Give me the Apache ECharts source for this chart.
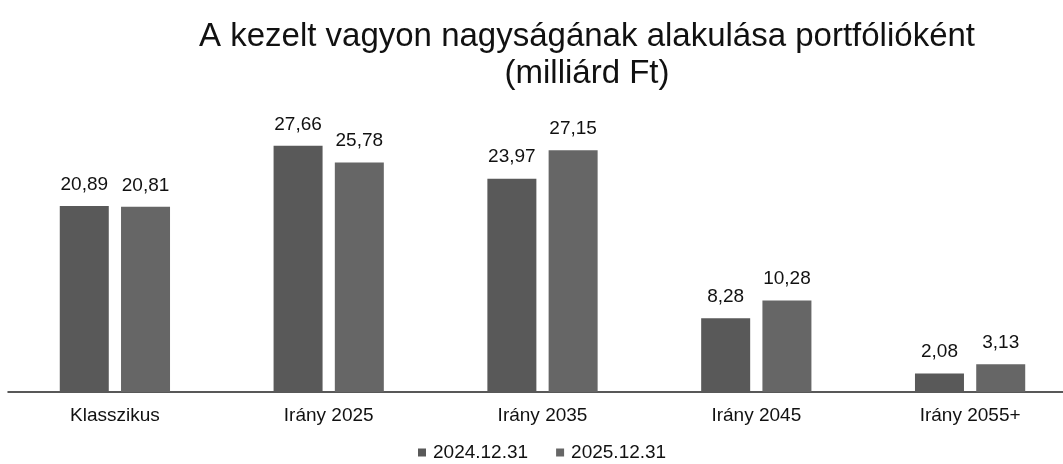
<!DOCTYPE html>
<html>
<head>
<meta charset="utf-8">
<script src="https://cdn.jsdelivr.net/npm/echarts@6/dist/echarts.min.js"></script>
<style>
  html, body { margin: 0; padding: 0; background: #fff; }
  #chart { width: 1063px; height: 464px; }
</style>
</head>
<body>
<div id="chart"></div>
<script>
const categories = ['Klasszikus', 'Irány 2025', 'Irány 2035', 'Irány 2045', 'Irány 2055+'];
const seriesNames = ['2024.12.31', '2025.12.31'];
const values2024 = [20.89, 27.66, 23.97, 8.28, 2.08];
const values2025 = [20.81, 25.78, 27.15, 10.28, 3.13];

const chart = echarts.init(document.getElementById('chart'));

const labelCfg = {
  show: true,
  position: 'top',
  distance: 12,
  color: '#111',
  fontFamily: 'Liberation Sans, Arial',
  fontSize: 19,
  formatter: p => p.value.toFixed(2).replace('.', ',')
};

chart.setOption({
  backgroundColor: '#fff',
  animation: false,
  title: {
    text: 'A kezelt vagyon nagyságának alakulása portfólióként\n(milliárd Ft)',
    left: 582,
    textAlign: 'center',
    top: 13,
    textStyle: {
      fontFamily: 'Liberation Sans, Arial',
      fontWeight: 'normal',
      fontSize: 33,
      lineHeight: 37,
      color: '#111'
    }
  },
  legend: {
    bottom: 2,
    left: 418,
    padding: 0,
    itemWidth: 8,
    itemHeight: 8,
    itemGap: 28,
    icon: 'rect',
    textStyle: { fontFamily: 'Liberation Sans, Arial', fontSize: 19, color: '#111', padding: [0, 0, 0, 2] },
    data: seriesNames
  },
  grid: { left: 8, right: -14, top: 125, bottom: 72, outerBoundsMode: 'none' },
  xAxis: {
    type: 'category',
    data: categories,
    axisLine: { lineStyle: { color: '#222', width: 1.5 } },
    axisTick: { show: false },
    axisLabel: {
      margin: 14,
      color: '#111',
      fontFamily: 'Liberation Sans, Arial',
      fontSize: 19
    }
  },
  yAxis: {
    type: 'value',
    min: 0,
    max: 30,
    show: false,
    splitLine: { show: false }
  },
  series: [
    {
      name: seriesNames[0],
      type: 'bar',
      data: values2024,
      barWidth: 49,
      barGap: '25%',
      itemStyle: { color: '#595959' },
      label: labelCfg
    },
    {
      name: seriesNames[1],
      type: 'bar',
      data: values2025,
      barWidth: 49,
      itemStyle: { color: '#666666' },
      label: labelCfg
    }
  ]
});
</script>
</body>
</html>
